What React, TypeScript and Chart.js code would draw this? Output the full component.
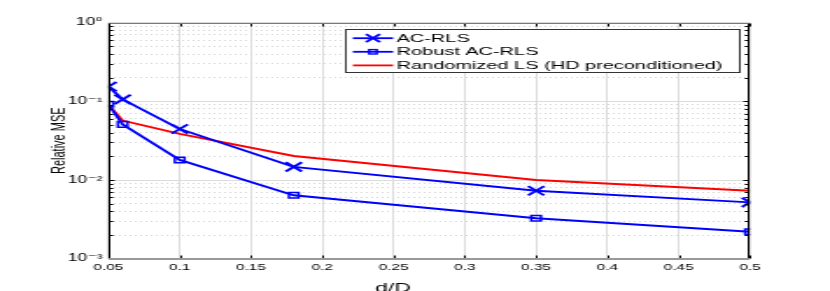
import React, { useEffect, useRef } from "react";
import { Chart, registerables } from "chart.js";

Chart.register(...registerables);

// ---------------- data ----------------
const xValues = [0.05, 0.06, 0.1, 0.18, 0.35, 0.5];
const acRls = [0.154, 0.106, 0.0446, 0.0147, 0.0073, 0.0052];
const robustAcRls = [0.0918, 0.051, 0.018, 0.0064, 0.00327, 0.0022];
const randomizedLs = [0.09, 0.057, 0.0385, 0.0202, 0.01, 0.0073];
const seriesLabels = ["AC-RLS", "Robust AC-RLS", "Randomized LS (HD preconditioned)"];
const xTickValues = [0.05, 0.1, 0.15, 0.2, 0.25, 0.3, 0.35, 0.4, 0.45, 0.5];
const yDecades = [-3, -2, -1, 0];
const yDecadeLabels = ["10\u207B\u00B3", "10\u207B\u00B2", "10\u207B\u00B9", "10\u2070"];
const yMinorMultipliers = [2, 3, 4, 5, 6, 7, 8, 9];
const xTitle = "d/D";
const yTitle = "Relative MSE";

// ---------------- drawing geometry (internal canvas px) ----------------
const CANVAS_W = 474; // drawn narrower, then stretched to 830 px wide like the reference
const CANVAS_H = 291;
const FONT = "'Liberation Sans', 'DejaVu Sans', Arial, sans-serif";
const BLUE = "#0000ff";
const RED = "#ff0000";

function drawX(ctx: CanvasRenderingContext2D, x: number, y: number, h: number) {
  ctx.beginPath();
  ctx.moveTo(x - h, y - h);
  ctx.lineTo(x + h, y + h);
  ctx.moveTo(x - h, y + h);
  ctx.lineTo(x + h, y - h);
  ctx.stroke();
}

function drawSquare(ctx: CanvasRenderingContext2D, x: number, y: number, h: number) {
  ctx.strokeRect(x - h, y - h, 2 * h, 2 * h);
}

const framePlugin = {
  id: "frame",
  afterDatasetsDraw(chart: any) {
    const { ctx, chartArea: ca, scales } = chart;
    const L = Math.round(ca.left) + 0.5;
    const R = Math.round(ca.right) - 0.5;
    const T = Math.round(ca.top) + 0.5;
    const B = Math.round(ca.bottom) - 0.5;
    ctx.save();
    ctx.lineWidth = 1;
    ctx.strokeStyle = "#000";
    for (const t of scales.y.ticks) {
      const py = Math.round(scales.y.getPixelForValue(t.value)) + 0.5;
      const len = t.major ? 3 : 2.2;
      ctx.beginPath();
      ctx.moveTo(L, py);
      ctx.lineTo(L + len, py);
      ctx.moveTo(R, py);
      ctx.lineTo(R - len, py);
      ctx.stroke();
    }
    for (const t of scales.x.ticks) {
      const px = Math.round(scales.x.getPixelForValue(t.value)) + 0.5;
      ctx.beginPath();
      ctx.moveTo(px, B);
      ctx.lineTo(px, B - 3);
      ctx.moveTo(px, T);
      ctx.lineTo(px, T + 3);
      ctx.stroke();
    }
    ctx.strokeStyle = "#000";
    ctx.beginPath();
    ctx.moveTo(L, T);
    ctx.lineTo(L, B);
    ctx.moveTo(R, T);
    ctx.lineTo(R, B);
    ctx.stroke();
    ctx.strokeStyle = "#777";
    ctx.beginPath();
    ctx.moveTo(L, T);
    ctx.lineTo(R, T);
    ctx.stroke();
    ctx.strokeStyle = "#999";
    ctx.lineWidth = 2;
    ctx.beginPath();
    ctx.moveTo(L - 0.5, B + 0.5);
    ctx.lineTo(R + 0.5, B + 0.5);
    ctx.stroke();
    ctx.restore();
  },
};

const legendPlugin = {
  id: "boxLegend",
  afterDraw(chart: any) {
    const { ctx, chartArea: ca } = chart;
    const w = ca.right - ca.left;
    const boxL = Math.round(ca.left + w * 0.3675) + 0.5;
    const boxR = Math.round(ca.left + w * 0.9815) + 0.5;
    const boxT = Math.round(ca.top + 6.3) + 0.5;
    const boxB = boxT + 43;
    ctx.save();
    ctx.fillStyle = "#fff";
    ctx.fillRect(boxL, boxT, boxR - boxL, boxB - boxT);
    ctx.strokeStyle = "#333";
    ctx.lineWidth = 1;
    ctx.strokeRect(boxL, boxT, boxR - boxL, boxB - boxT);
    const lineX0 = boxL + 4;
    const lineX1 = boxL + 27;
    const mid = (lineX0 + lineX1) / 2;
    const textX = boxL + 29;
    chart.data.datasets.forEach((ds: any, i: number) => {
      const y = boxT + 8.7 + i * 13.6;
      ctx.strokeStyle = ds.borderColor;
      ctx.lineWidth = 1.8;
      ctx.beginPath();
      ctx.moveTo(lineX0, y);
      ctx.lineTo(lineX1, y);
      ctx.stroke();
      if (ds.pointStyle === "crossRot") {
        ctx.lineWidth = 1.8;
        drawX(ctx, mid, y, 4);
      } else if (ds.pointStyle === "rect" && ds.pointRadius > 0) {
        ctx.lineWidth = 1.4;
        drawSquare(ctx, mid, y, 2.2);
      }
      ctx.fillStyle = "#000";
      ctx.font = `11.4px ${FONT}`;
      ctx.textBaseline = "middle";
      ctx.textAlign = "left";
      ctx.fillText(ds.label, textX, y + 0.5);
    });
    ctx.restore();
  },
};

const xTitlePlugin = {
  id: "xTitle",
  afterDraw(chart: any) {
    const { ctx, chartArea: ca } = chart;
    ctx.save();
    ctx.fillStyle = "#000";
    ctx.font = `13px ${FONT}`;
    ctx.textAlign = "center";
    ctx.textBaseline = "alphabetic";
    ctx.fillText(xTitle, ca.left + (ca.right - ca.left) * 0.4435, ca.bottom + 33);
    ctx.restore();
  },
};

function pts(vals: number[]) {
  return xValues.map((x, i) => ({ x, y: vals[i] }));
}

export default function App() {
  const ref = useRef<HTMLCanvasElement>(null);

  useEffect(() => {
    const canvas = ref.current;
    if (!canvas) return;
    const chart = new Chart(canvas, {
      type: "line",
      data: {
        datasets: [
          {
            label: seriesLabels[0],
            data: pts(acRls),
            borderColor: BLUE,
            backgroundColor: "rgba(0,0,0,0)",
            borderWidth: 1.9,
            pointStyle: "crossRot",
            pointRadius: 6.5,
            pointBorderWidth: 1.9,
            pointBorderColor: BLUE,
            pointBackgroundColor: "rgba(0,0,0,0)",
            tension: 0,
          },
          {
            label: seriesLabels[1],
            data: pts(robustAcRls),
            borderColor: BLUE,
            backgroundColor: "rgba(0,0,0,0)",
            borderWidth: 1.9,
            pointStyle: "rect",
            pointRadius: 3.9,
            pointBorderWidth: 1.5,
            pointBorderColor: BLUE,
            pointBackgroundColor: "rgba(0,0,0,0)",
            tension: 0,
          },
          {
            label: seriesLabels[2],
            data: pts(randomizedLs),
            borderColor: RED,
            backgroundColor: "rgba(0,0,0,0)",
            borderWidth: 1.9,
            pointRadius: 0,
            pointStyle: "line",
            tension: 0,
          },
        ],
      } as any,
      options: {
        responsive: false,
        animation: false,
        devicePixelRatio: 1,
        events: [],
        layout: { padding: { left: 0, top: 22.7, right: 45.7, bottom: 0 } },
        plugins: {
          legend: { display: false },
          tooltip: { enabled: false },
        },
        scales: {
          x: {
            type: "linear",
            min: 0.05,
            max: 0.5,
            afterBuildTicks: (s: any) => {
              s.ticks = xTickValues.map((v) => ({ value: v }));
            },
            afterFit: (s: any) => {
              s.height = 32.3;
            },
            ticks: {
              autoSkip: false,
              maxRotation: 0,
              padding: 4,
              color: "#000",
              font: { family: FONT, size: 8.8 },
              callback: (v: any) => String(Number(Number(v).toFixed(2))),
            },
            grid: { color: "#dcdcdc", lineWidth: 1, drawTicks: false },
            border: { display: false },
          },
          y: {
            type: "logarithmic",
            min: 0.001,
            max: 1,
            afterBuildTicks: (s: any) => {
              const ticks: any[] = [];
              yDecades.forEach((e) => {
                const base = Math.pow(10, e);
                ticks.push({ value: base, major: true });
                if (e < 0) {
                  yMinorMultipliers.forEach((m) => {
                    ticks.push({ value: Number((m * base).toPrecision(6)), major: false });
                  });
                }
              });
              s.ticks = ticks;
            },
            afterFit: (s: any) => {
              s.width = 61.9;
            },
            ticks: {
              autoSkip: false,
              padding: 3.4,
              color: "#000",
              font: { family: FONT, size: 10 },
              callback: (v: any) => {
                const val = Number(v);
                const k = yDecades.findIndex((e) => Math.abs(Math.log10(val) - e) < 1e-6);
                return k >= 0 ? yDecadeLabels[k] : "";
              },
            },
            grid: {
              drawTicks: false,
              lineWidth: 1,
              color: (c: any) => (c.tick && c.tick.major ? "#dcdcdc" : "#d6d6d6"),
            },
            border: {
              display: false,
              dash: (c: any) => (c.tick && c.tick.major ? [] : [1, 2]),
            } as any,
            title: {
              display: true,
              text: yTitle,
              color: "#000",
              font: { family: FONT, size: 11 },
              padding: { top: 27, bottom: 0 },
            },
          },
        },
      } as any,
      plugins: [framePlugin, legendPlugin, xTitlePlugin],
    });
    return () => chart.destroy();
  }, []);

  return (
    <div style={{ position: "fixed", left: 0, top: 0, width: 830, height: 291, background: "#fff" }}>
      <canvas
        ref={ref}
        width={CANVAS_W}
        height={CANVAS_H}
        style={{ width: "830px", height: "291px", display: "block" }}
      />
    </div>
  );
}
